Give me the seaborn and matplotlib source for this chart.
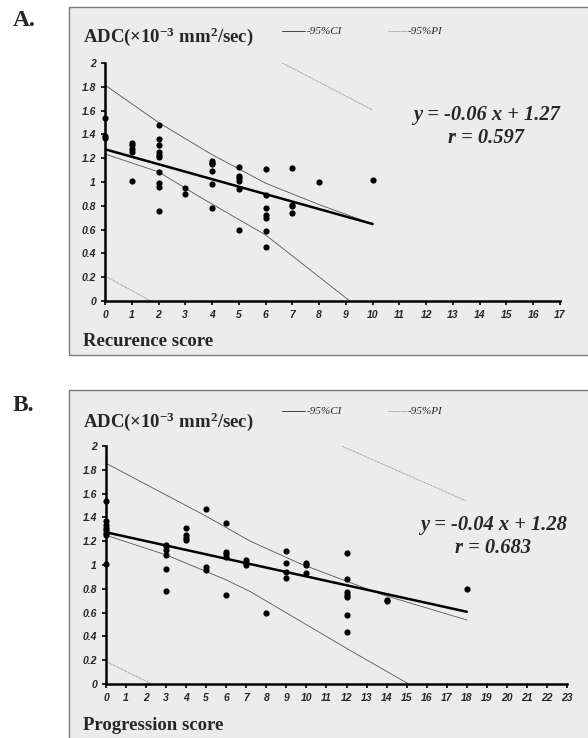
import matplotlib
matplotlib.use("Agg")
import matplotlib.pyplot as plt
import seaborn as sns
import pandas as pd
from matplotlib.patches import Rectangle

# --- Panel A : ADC vs recurrence score ---
rec_score = [0, 0, 0,
             1, 1, 1, 1, 1,
             2, 2, 2, 2, 2, 2, 2, 2, 2, 2,
             3, 3,
             4, 4, 4, 4, 4, 4,
             5, 5, 5, 5, 5, 5,
             6, 6, 6, 6, 6, 6, 6,
             7, 7, 7, 7,
             8, 10]
rec_adc = [1.54, 1.39, 1.37,
           1.33, 1.31, 1.28, 1.25, 1.01,
           1.48, 1.36, 1.31, 1.25, 1.23, 1.21, 1.08, 0.99, 0.96, 0.76,
           0.95, 0.90,
           1.18, 1.16, 1.15, 1.09, 0.98, 0.78,
           1.13, 1.05, 1.03, 1.01, 0.94, 0.60,
           1.11, 0.89, 0.78, 0.72, 0.70, 0.59, 0.45,
           1.12, 0.81, 0.80, 0.74,
           1.00, 1.02]
rec_fit_x = [0, 10]
rec_fit_y = [1.275, 0.647]
rec_ci_up_x = [0, 2, 4, 6, 8, 10]
rec_ci_up_y = [1.815, 1.50, 1.23, 0.99, 0.81, 0.647]
rec_ci_lo_x = [0, 2, 3.5, 6, 9.15]
rec_ci_lo_y = [1.235, 1.085, 0.88, 0.555, 0.0]
rec_pi_up_x = [6.46, 10.0]
rec_pi_up_y = [2.02, 1.605]
rec_pi_lo_x = [0, 1.71]
rec_pi_lo_y = [0.21, 0.0]

# --- Panel B : ADC vs progression score ---
prog_score = [0, 0, 0, 0, 0, 0, 0, 0,
              3, 3, 3, 3, 3, 3,
              4, 4, 4, 4,
              5, 5, 5,
              6, 6, 6, 6, 6,
              7, 7, 7,
              8,
              9, 9, 9, 9,
              10, 10, 10,
              12, 12, 12, 12, 12, 12, 12,
              14, 14,
              18]
prog_adc = [1.54, 1.37, 1.34, 1.31, 1.29, 1.27, 1.25, 1.01,
            1.17, 1.16, 1.13, 1.08, 0.97, 0.78,
            1.31, 1.25, 1.23, 1.21,
            1.47, 0.98, 0.96,
            1.35, 1.11, 1.09, 1.07, 0.75,
            1.04, 1.02, 1.00,
            0.60,
            1.12, 1.02, 0.94, 0.89,
            1.02, 1.00, 0.93,
            1.10, 0.88, 0.77, 0.75, 0.73, 0.58, 0.44,
            0.71, 0.70,
            0.80]
prog_fit_x = [0, 18]
prog_fit_y = [1.275, 0.607]
prog_ci_up_x = [0, 5, 7.2, 9.7, 13.8, 18]
prog_ci_up_y = [1.855, 1.41, 1.20, 1.01, 0.75, 0.538]
prog_ci_lo_x = [0, 3, 6, 7.2, 12, 15.1]
prog_ci_lo_y = [1.25, 1.085, 0.875, 0.776, 0.30, 0.0]
prog_pi_up_x = [11.76, 17.95]
prog_pi_up_y = [2.0, 1.54]
prog_pi_lo_x = [0, 2.28]
prog_pi_lo_y = [0.19, 0.0]

yticks = [0, 0.2, 0.4, 0.6, 0.8, 1, 1.2, 1.4, 1.6, 1.8, 2]
ytick_labels = ["0", "0.2", "0.4", "0.6", "0.8", "1", "1.2", "1.4", "1.6", "1.8", "2"]

sns.set_style("white")
plt.rcParams["mathtext.fontset"] = "custom"
plt.rcParams["mathtext.rm"] = "Liberation Serif:bold"
plt.rcParams["mathtext.it"] = "Liberation Serif:bold"
plt.rcParams["mathtext.bf"] = "Liberation Serif:bold"

W, H = 588, 738
fig = plt.figure(figsize=(W / 100, H / 100), dpi=100)
fig.patch.set_facecolor("white")


def fx(px):
    return px / W


def fy(py):
    return 1 - py / H


def panel(frame_top, frame_bot, ax_rect, xmax, scores, adc, fit, ci_up, ci_lo, pi_up, pi_lo,
          letter, letter_y, title_y, legend_y, xlabel, xlabel_y, eq, r_txt, eq_xy):
    fig.patches.append(Rectangle((fx(69), fy(frame_bot)), 1.0, fy(frame_top) - fy(frame_bot),
                                 transform=fig.transFigure, facecolor="#ececec",
                                 edgecolor="#7a7a7a", linewidth=1.0, zorder=-10))
    ax = fig.add_axes(ax_rect)
    ax.set_facecolor("none")
    ax.set_zorder(2)
    df = pd.DataFrame({"score": scores, "adc": adc})

    for lx, ly in [ci_up, ci_lo]:
        sns.lineplot(x=lx, y=ly, ax=ax, color="#555555", linewidth=0.6, sort=False,
                     estimator=None)
    for lx, ly in [pi_up, pi_lo]:
        sns.lineplot(x=lx, y=ly, ax=ax, color="#666666", linewidth=0.5, sort=False,
                     estimator=None, linestyle=(0, (1.2, 1.0)))
    sns.lineplot(x=fit[0], y=fit[1], ax=ax, color="black", linewidth=1.8, sort=False,
                 estimator=None)
    sns.scatterplot(data=df, x="score", y="adc", ax=ax, color="black", s=20,
                    edgecolor="black", linewidth=0, clip_on=False, zorder=5)

    ax.set_xlim(0, xmax)
    ax.set_ylim(0, 2)
    ax.set_xticks(range(0, xmax + 1))
    ax.set_xticklabels([str(i) for i in range(0, xmax + 1)])
    ax.set_yticks(yticks)
    ax.set_yticklabels(ytick_labels)
    ax.set_xlabel("")
    ax.set_ylabel("")
    for side in ["top", "right"]:
        ax.spines[side].set_visible(False)
    for side in ["left", "bottom"]:
        ax.spines[side].set_linewidth(1.8)
        ax.spines[side].set_color("black")
    ax.tick_params(axis="both", direction="out", length=3, width=1.2, color="black",
                   pad=3.5, bottom=True, left=True)
    for lab in ax.get_xticklabels() + ax.get_yticklabels():
        lab.set_fontfamily("Liberation Sans")
        lab.set_fontweight("bold")
        lab.set_fontstyle("italic")
        lab.set_fontsize(7.5)

    fig.text(fx(13), fy(letter_y), letter, fontsize=17, fontweight="bold",
             family="Liberation Serif", va="baseline", ha="left")
    fig.text(fx(83), fy(title_y), r"ADC(×10$^{-3}$ mm$^{2}$/sec)", fontsize=13.5,
             fontweight="bold", family="Liberation Serif", va="center", ha="left")
    # legend
    fig.lines.append(plt.Line2D([fx(282), fx(305)], [fy(legend_y), fy(legend_y)],
                                transform=fig.transFigure, color="#444444", linewidth=0.7))
    fig.text(fx(307), fy(legend_y), "-95%CI", fontsize=8, style="italic",
             family="Liberation Serif", va="center", ha="left")
    fig.lines.append(plt.Line2D([fx(388), fx(407)], [fy(legend_y), fy(legend_y)],
                                transform=fig.transFigure, color="#666666", linewidth=0.5,
                                linestyle=(0, (1.2, 1.0))))
    fig.text(fx(408), fy(legend_y), "-95%PI", fontsize=8, style="italic",
             family="Liberation Serif", va="center", ha="left")

    fig.text(fx(83), fy(xlabel_y), xlabel, fontsize=13.5, fontweight="bold",
             family="Liberation Serif", va="center", ha="left")
    fig.text(fx(eq_xy[0]), fy(eq_xy[1]), eq, fontsize=14.8, fontweight="bold",
             style="italic", family="Liberation Serif", va="center", ha="center")
    fig.text(fx(eq_xy[0]), fy(eq_xy[1] + 23), r_txt, fontsize=14.8, fontweight="bold",
             style="italic", family="Liberation Serif", va="center", ha="center")
    return ax


panel(7, 355, [fx(105), fy(301), fx(560) - fx(105), fy(63) - fy(301)], 17,
      rec_score, rec_adc, (rec_fit_x, rec_fit_y), (rec_ci_up_x, rec_ci_up_y),
      (rec_ci_lo_x, rec_ci_lo_y), (rec_pi_up_x, rec_pi_up_y), (rec_pi_lo_x, rec_pi_lo_y),
      "A.", 26, 37, 31, "Recurence score", 341, "y = -0.06 x + 1.27", "r = 0.597", (486, 115))

panel(390, 745, [fx(106), fy(684), fx(567) - fx(106), fy(446) - fy(684)], 23,
      prog_score, prog_adc, (prog_fit_x, prog_fit_y), (prog_ci_up_x, prog_ci_up_y),
      (prog_ci_lo_x, prog_ci_lo_y), (prog_pi_up_x, prog_pi_up_y), (prog_pi_lo_x, prog_pi_lo_y),
      "B.", 411, 422, 411, "Progression score", 725, "y = -0.04 x + 1.28", "r = 0.683", (493, 525))

fig.savefig("out.png", dpi=100)
